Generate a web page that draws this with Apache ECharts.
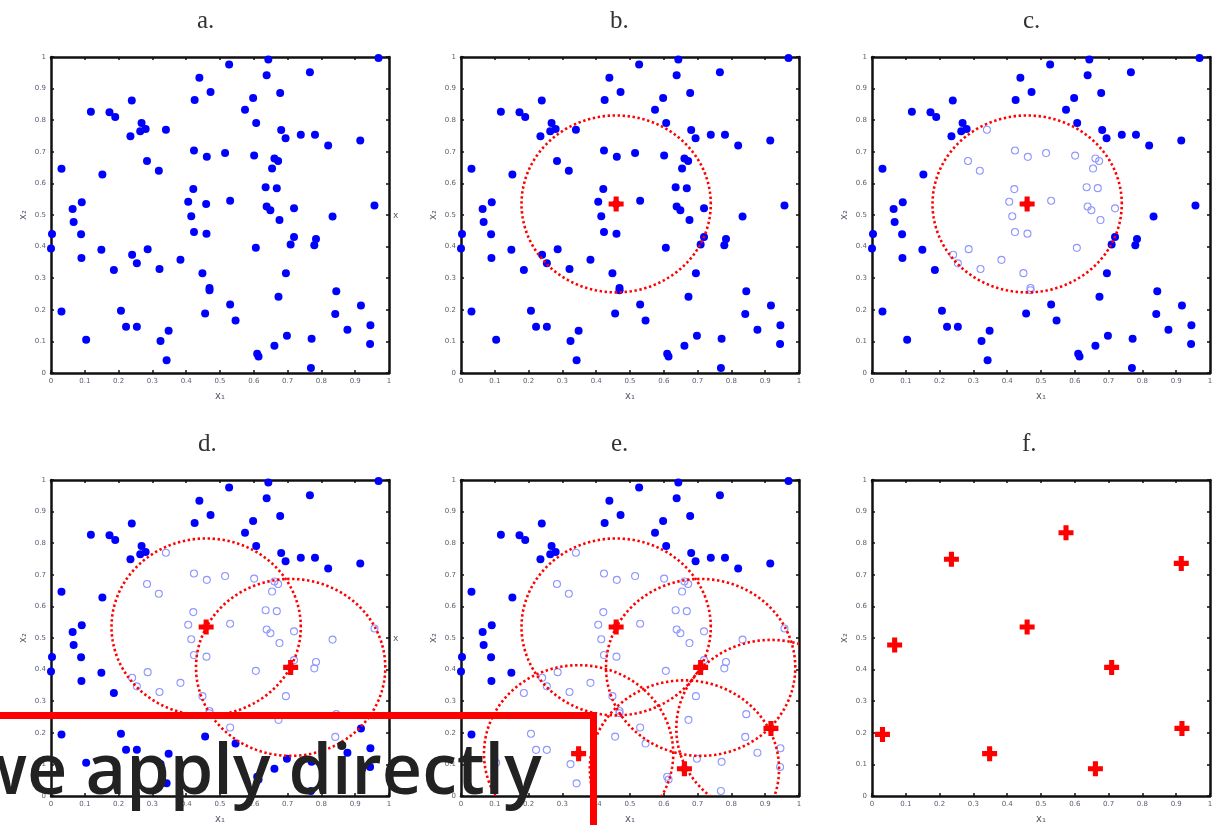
<!DOCTYPE html>
<html>
<head>
<meta charset="utf-8">
<script src="https://cdn.jsdelivr.net/npm/echarts@6/dist/echarts.min.js"></script>
<style>
  html, body { margin: 0; padding: 0; background: #ffffff; overflow: hidden; }
  #chart { width: 1218px; height: 825px; }
</style>
</head>
<body>
<div id="chart"></div>
<script>
// Sample points in the unit square (x1, x2)
const pointX = [
  0.969, 0.643, 0.527, 0.766, 0.638, 0.439, 0.472, 0.678, 0.239, 0.425,
  0.598, 0.574, 0.118, 0.173, 0.190, 0.607, 0.268, 0.264, 0.280, 0.340,
  0.681, 0.235, 0.694, 0.739, 0.781, 0.820, 0.915, 0.423, 0.461, 0.515,
  0.601, 0.661, 0.672, 0.031, 0.284, 0.319, 0.654, 0.152, 0.421, 0.635,
  0.668, 0.406, 0.459, 0.530, 0.091, 0.064, 0.638, 0.649, 0.719, 0.957,
  0.415, 0.833, 0.067, 0.676, 0.003, 0.089, 0.423, 0.460, 0.000, 0.149,
  0.286, 0.606, 0.719, 0.709, 0.784, 0.779, 0.090, 0.240, 0.254, 0.383,
  0.186, 0.321, 0.448, 0.695, 0.469, 0.469, 0.673, 0.844, 0.031, 0.207,
  0.530, 0.456, 0.917, 0.841, 0.546, 0.222, 0.254, 0.348, 0.877, 0.945,
  0.104, 0.324, 0.698, 0.771, 0.944, 0.610, 0.614, 0.661, 0.342, 0.769
];
const pointY = [
  0.997, 0.992, 0.976, 0.952, 0.942, 0.934, 0.889, 0.886, 0.862, 0.864,
  0.870, 0.833, 0.827, 0.825, 0.810, 0.791, 0.791, 0.765, 0.772, 0.770,
  0.769, 0.749, 0.743, 0.754, 0.754, 0.720, 0.736, 0.704, 0.684, 0.696,
  0.688, 0.679, 0.671, 0.646, 0.671, 0.640, 0.647, 0.628, 0.582, 0.588,
  0.585, 0.542, 0.535, 0.545, 0.540, 0.519, 0.527, 0.515, 0.521, 0.530,
  0.496, 0.495, 0.478, 0.484, 0.440, 0.439, 0.446, 0.441, 0.394, 0.390,
  0.392, 0.396, 0.430, 0.407, 0.424, 0.404, 0.364, 0.374, 0.347, 0.358,
  0.326, 0.329, 0.316, 0.316, 0.269, 0.262, 0.241, 0.259, 0.195, 0.197,
  0.217, 0.188, 0.214, 0.187, 0.166, 0.146, 0.146, 0.134, 0.137, 0.151,
  0.105, 0.101, 0.118, 0.108, 0.092, 0.061, 0.052, 0.086, 0.040, 0.016
];

// Window centres, in the order they are found
const centreX = [0.459, 0.709, 0.348, 0.917, 0.661, 0.031, 0.067, 0.235, 0.574, 0.915];
const centreY = [0.535, 0.407, 0.134, 0.214, 0.086, 0.195, 0.478, 0.749, 0.833, 0.736];

// Window radius
const bandwidth = 0.28;

// Panel captions and what each panel shows
const panelLabels   = ['a.', 'b.', 'c.', 'd.', 'e.', 'f.'];
const panelCentres  = [0, 1, 1, 2, 5, 10];   // number of centres marked
const panelWindows  = [0, 1, 1, 2, 5, 0];    // number of windows drawn
const panelVisited  = [false, false, true, true, true, false]; // mark covered points
const panelPoints   = [true, true, true, true, true, false];

// Tick labels for both axes
const tickLabels = ['0', '0.1', '0.2', '0.3', '0.4', '0.5', '0.6', '0.7', '0.8', '0.9', '1'];

// Panel layout
const colLeft = [51, 461, 872];
const rowTop = [57, 480];
const gridW = 338;
const gridH = 316;
const titleLeft = [[192, 605, 1018], [193, 606, 1017]];
const titleTop = [4, 427];

const blue = '#0000ff';
const hollowBlue = '#8f96ff';
const red = '#ff0000';
const crossPath = 'path://M3.3,0 H6.7 V3.3 H10 V6.7 H6.7 V10 H3.3 V6.7 H0 V3.3 H3.3 Z';

function renderWindow(params, api) {
  const c = api.coord([api.value(0), api.value(1)]);
  const s = api.size([api.value(2), api.value(2)]);
  const pts = [];
  const n = 200;
  for (let k = 0; k <= n; k++) {
    const t = (k / n) * Math.PI * 2;
    pts.push([c[0] + s[0] * Math.cos(t), c[1] - s[1] * Math.sin(t)]);
  }
  const cs = params.coordSys;
  return {
    type: 'polyline',
    shape: { points: pts },
    style: { stroke: red, lineWidth: 2.6, lineDash: [2.4, 2.6], fill: null },
    clipPath: { type: 'rect', shape: { x: cs.x, y: cs.y, width: cs.width, height: cs.height } }
  };
}

const grids = [], xAxes = [], yAxes = [], series = [], titles = [];
const labelFmt = v => tickLabels[Math.round(v * 10)];
const frameLine = { show: true, onZero: false, lineStyle: { color: '#111', width: 2.5 } };
const innerTick = { show: true, inside: true, length: 3, lineStyle: { color: '#111', width: 1.5 } };
const tickFont = { fontSize: 7, color: '#5a6070', fontFamily: 'DejaVu Sans' };

for (let p = 0; p < 6; p++) {
  const row = Math.floor(p / 3), col = p % 3;
  grids.push({ left: colLeft[col], top: rowTop[row], width: gridW, height: gridH });
  titles.push({
    text: panelLabels[p], left: titleLeft[row][col], top: titleTop[row],
    textStyle: { fontFamily: 'Liberation Serif', fontSize: 25, fontWeight: 'normal', color: '#333' }
  });
  const axisBase = { type: 'value', min: 0, max: 1, interval: 0.1, gridIndex: p, splitLine: { show: false } };
  xAxes.push(Object.assign({}, axisBase, {
    position: 'bottom', axisLine: frameLine, axisTick: innerTick,
    axisLabel: Object.assign({ margin: 5, formatter: labelFmt }, tickFont),
    name: 'x₁', nameLocation: 'middle', nameGap: 18,
    nameTextStyle: { fontSize: 10, color: '#555b6a', fontFamily: 'DejaVu Sans' }
  }));
  xAxes.push(Object.assign({}, axisBase, {
    position: 'top', axisLine: frameLine, axisTick: innerTick, axisLabel: { show: false }
  }));
  yAxes.push(Object.assign({}, axisBase, {
    position: 'left', axisLine: frameLine, axisTick: innerTick,
    axisLabel: Object.assign({ margin: 5, formatter: labelFmt }, tickFont),
    name: 'x₂', nameLocation: 'middle', nameGap: 23,
    nameTextStyle: { fontSize: 10, color: '#555b6a', fontFamily: 'DejaVu Sans' }
  }));
  yAxes.push(Object.assign({}, axisBase, {
    position: 'right', axisLine: frameLine, axisTick: innerTick, axisLabel: { show: false }
  }));

  const axisRef = { xAxisIndex: 2 * p, yAxisIndex: 2 * p };
  const nC = panelCentres[p];

  if (panelPoints[p]) {
    const filled = [], hollow = [];
    for (let i = 0; i < pointX.length; i++) {
      let covered = false;
      if (panelVisited[p]) {
        for (let k = 0; k < panelWindows[p]; k++) {
          const dx = pointX[i] - centreX[k], dy = pointY[i] - centreY[k];
          if (Math.sqrt(dx * dx + dy * dy) <= bandwidth) { covered = true; break; }
        }
      }
      (covered ? hollow : filled).push([pointX[i], pointY[i]]);
    }
    series.push(Object.assign({
      type: 'scatter', data: filled, symbol: 'circle', symbolSize: 8, z: 2,
      itemStyle: { color: blue, opacity: 1 }, silent: true
    }, axisRef));
    if (hollow.length) {
      series.push(Object.assign({
        type: 'scatter', data: hollow, symbol: 'circle', symbolSize: 7, z: 2,
        itemStyle: { color: 'rgba(255,255,255,0)', borderColor: hollowBlue, borderWidth: 1.1, opacity: 1 },
        silent: true
      }, axisRef));
    }
  }

  if (panelWindows[p] > 0) {
    const win = [];
    for (let k = 0; k < panelWindows[p]; k++) win.push([centreX[k], centreY[k], bandwidth]);
    series.push(Object.assign({
      type: 'custom', data: win, renderItem: renderWindow, z: 3, silent: true,
      encode: { x: 0, y: 1 }
    }, axisRef));
  }

  if (nC > 0) {
    const cross = [];
    for (let k = 0; k < nC; k++) cross.push([centreX[k], centreY[k]]);
    series.push(Object.assign({
      type: 'scatter', data: cross, symbol: crossPath, symbolSize: 15, z: 4,
      itemStyle: { color: red, opacity: 1 }, silent: true
    }, axisRef));
  }
}

const chart = echarts.init(document.getElementById('chart'), null, { renderer: 'canvas' });
chart.setOption({
  animation: false,
  backgroundColor: '#ffffff',
  title: titles,
  grid: grids,
  xAxis: xAxes,
  yAxis: yAxes,
  series: series,
  graphic: [
    { type: 'text', z: 50, left: 393, top: 211, style: { text: 'x', font: '9px "DejaVu Sans"', fill: '#555b6a' } },
    { type: 'text', z: 50, left: 393, top: 634, style: { text: 'x', font: '9px "DejaVu Sans"', fill: '#555b6a' } },
    {
      type: 'rect', z: 100, silent: true,
      shape: { x: -100, y: 715.5, width: 693.5, height: 300 },
      style: { fill: null, stroke: '#ff0000', lineWidth: 7 }
    },
    {
      type: 'text', z: 101, silent: true, x: -30, y: 774,
      style: {
        text: 'we apply directly', font: '600 70px "Open Sans"', fill: '#222222',
        verticalAlign: 'middle', align: 'left'
      }
    }
  ]
});
</script>
</body>
</html>
